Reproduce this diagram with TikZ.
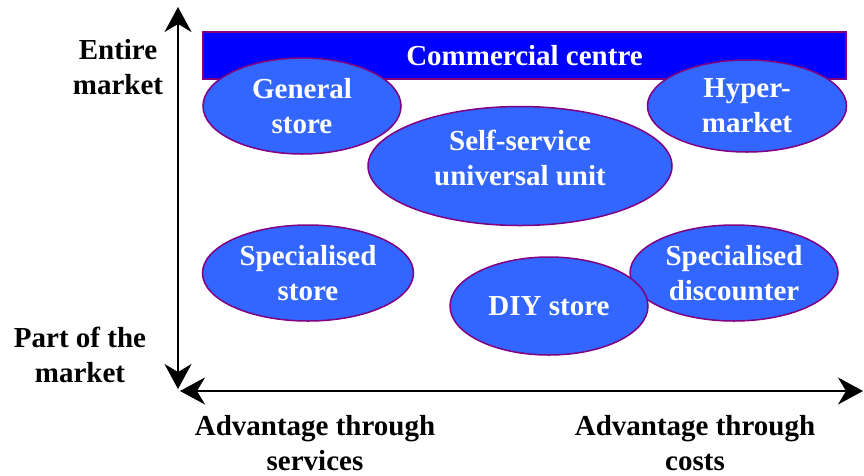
\documentclass[tikz,border=0pt]{standalone}
\usepackage{fontspec}
\setmainfont{Liberation Serif}
\usepackage{tikz}
\usetikzlibrary{arrows.meta,shapes.geometric}
\definecolor{CentreBlue}{RGB}{0,0,255}
\definecolor{ShopBlue}{RGB}{51,102,255}
\definecolor{ShopEdge}{RGB}{128,0,128}

\begin{document}
\begin{tikzpicture}[
  x=1pt, y=-1pt,
  font=\fontsize{29}{35}\selectfont\bfseries,
  shop/.style={ellipse, draw=ShopEdge, line width=1.5pt, fill=ShopBlue, text=white, inner sep=0pt, align=center},
  centre/.style={draw=ShopEdge, line width=1.5pt, fill=CentreBlue, text=white, inner sep=0pt},
  label/.style={align=center, text=black},
  axis/.style={{Stealth[length=25pt,width=27pt,inset=8pt]}-{Stealth[length=25pt,width=27pt,inset=8pt]}, line width=2pt, draw=black}
]
\useasboundingbox (0,0) rectangle (864,475);

% market coverage vs. advantage axes
\coordinate (ytop) at (178,7);
\coordinate (ybot) at (178,389);
\coordinate (xleft) at (180,391);
\coordinate (xright) at (863,391);
\draw[axis] (ybot) -- (ytop);
\draw[axis] (xleft) -- (xright);

\node[label] (entire) at (118,67) {Entire\\market};
\node[label] (part) at (80,355) {Part of the\\market};
\node[label] (services) at (315,443) {Advantage through\\services};
\node[label] (costs) at (695,443) {Advantage through\\costs};

% store types
\node[centre, minimum width=643, minimum height=47] (commercial) at (524.5,55.5) {Commercial centre};
\node[shop, minimum width=198, minimum height=96] (general) at (302,106) {General\\store};
\node[shop, minimum width=199, minimum height=92] (hyper) at (747,106) {Hyper-\\market};
\node[shop, minimum width=304, minimum height=119] (selfservice) at (520,166) {};
\node[text=white, align=center] (selfservicetext) at (520,158) {Self-service\\universal unit};
\node[shop, minimum width=211, minimum height=96] (specstore) at (308,273) {Specialised\\store};
\node[shop, minimum width=208, minimum height=96] (discounter) at (734,273) {Specialised\\discounter};
\node[shop, minimum width=198, minimum height=98] (diy) at (549,306) {DIY store};
\end{tikzpicture}
\end{document}
